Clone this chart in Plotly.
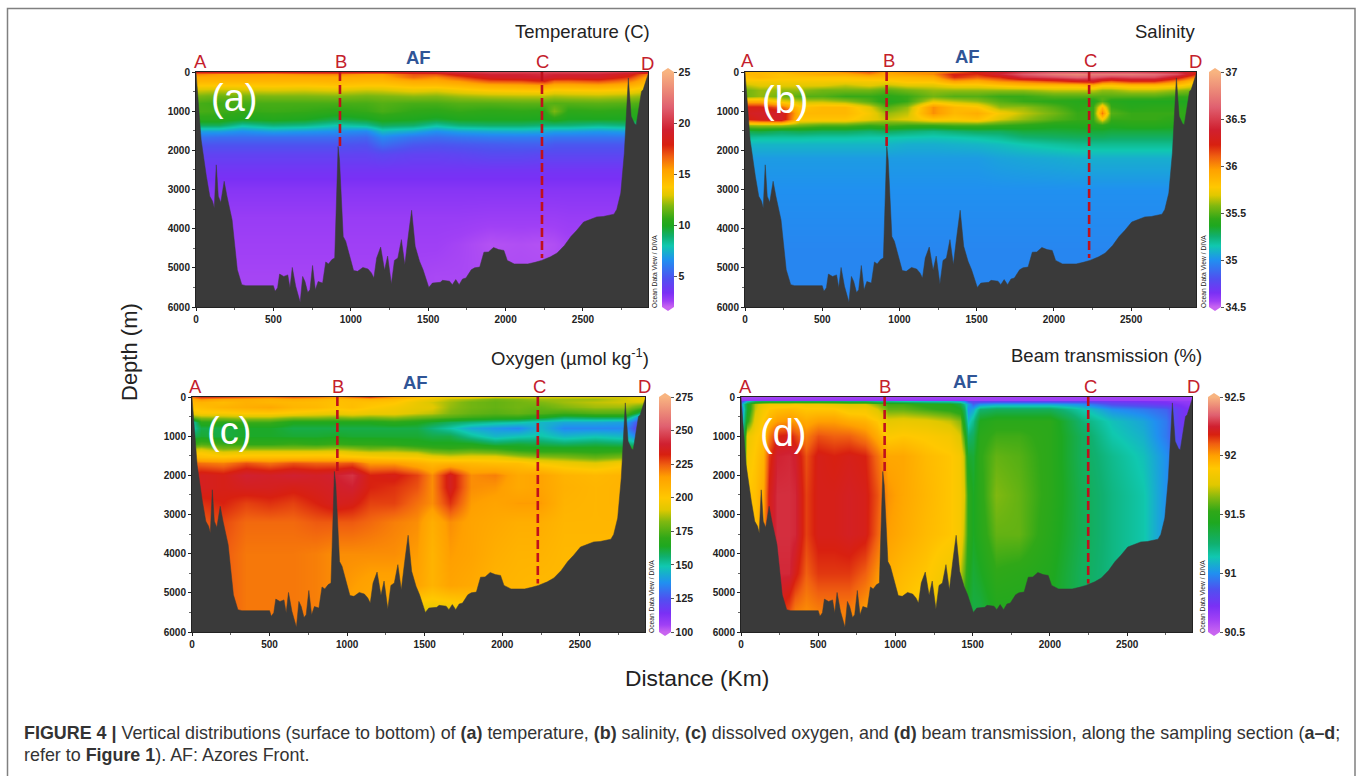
import plotly.graph_objects as go

W, H = 1360, 776

# ---------- bathymetry (shared by every section) ----------
bathy_km = [0,12,33,67,89,107,118,131,144,160,182,200,233,267,296,322,500,511,527,540,567,593,607,622,644,673,689,704,722,736,753,771,789,818,838,856,878,896,918,927,951,967,993,1018,1044,1078,1111,1133,1149,1167,1193,1218,1238,1262,1282,1304,1327,1349,1371,1393,1416,1444,1467,1504,1527,1578,1593,1616,1638,1656,1678,1700,1722,1744,1778,1800,1833,1860,1889,1922,1956,1989,2011,2056,2144,2190,2233,2290,2333,2380,2422,2460,2504,2550,2589,2630,2678,2700,2718,2744,2767,2793,2811,2833,2844,2860,2878,2889,2925]
bathy_m = [0,600,1730,2660,3170,3300,3470,2370,3170,3330,2790,3170,3770,5050,5430,5455,5455,5600,5510,5160,5220,5180,5510,4990,5470,5880,5220,5350,5630,5560,4940,5560,5350,5390,4850,4900,4790,4750,1900,2240,4200,4320,4700,5070,5090,4990,5030,5130,5260,4750,4470,5060,4700,5410,4810,4750,4280,4920,4200,3530,4450,4830,5050,5500,5390,5370,5320,5340,5340,5430,5300,5430,5285,5260,5050,5000,4980,4600,4595,4480,4535,4555,4810,4900,4900,4860,4810,4720,4620,4430,4200,4040,3830,3760,3700,3690,3660,3630,3510,3090,2070,150,1130,1320,1345,880,495,450,0]

# ---------- temperature ----------
temp_km = [0,150,300,500,700,900,1100,1200,1400,1550,1700,1900,2100,2250,2310,2400,2600,2800,2920]
temp_depth = [0,40,120,220,320,450,600,800,1000,1200,1350,1500,1650,1850,2100,2500,3000,3700,4400,5200,6000]
temp_values = [
 [18,18.5,18.5,18,18.5,18.5,18.5,18.5,19,19.5,20,20.5,20.5,20.5,20.5,20.5,20.5,20,19],
 [16,15.5,15.5,15.5,15.8,16,15.5,15.5,17,17,18.5,19.5,19.5,19.8,19.5,19.5,19.5,18.5,16],
 [15,15,15,15,15,15,15,15,16.5,15.8,17,18.7,19.2,19.4,19,18.8,19,17.5,15],
 [14.5,14.5,14.5,14.5,14.5,14.6,14.4,14.4,15,15,15.5,16.8,17,17.8,16.5,16.5,17,16,14.5],
 [13.8,13.8,13.8,13.9,13.8,14,13.8,13.8,14.2,14.2,14.5,15,15.2,15.5,15,15,15.2,14.8,14],
 [12.8,12.6,12.8,12.9,12.8,13,12.7,12.8,13.2,13,13.4,13.8,13.9,14,13.6,13.7,13.8,13.6,13],
 [11.8,11.5,11.7,11.8,11.8,11.9,11.7,11.8,12,11.9,12.2,12.4,12.5,12.5,12.3,12.4,12.5,12.3,12],
 [11,10.8,11,11,11,11,11,11.2,11,11,11.2,11.2,11.3,11.3,11.2,11.2,11.3,11.2,11],
 [11,10.9,10.7,10.8,10.7,10.5,10.7,11,10.6,10.5,10.7,10.5,10.6,10.5,11.8,10.5,10.6,10.5,10.5],
 [10.4,10.4,10,10.2,10,9.4,9.8,10.2,10,9.7,10,10,10,9.9,10.3,9.9,9.9,9.9,9.9],
 [9.2,9.2,8.2,8.8,8.6,8,8.4,9.2,9,8.2,8.8,9,9,8.8,8.8,8.8,8.5,8.8,7.5],
 [7,7,6.6,7,6.8,6.6,6.4,7.6,7.2,6.6,7,7.2,7.3,7.2,7,7,6.8,7,7],
 [5.8,5.6,5.6,5.6,5.6,5.6,5.4,6.4,5.8,5.6,5.8,6,6,6,5.8,5.8,5.8,5.8,5.8],
 [4.9,4.9,4.9,4.9,4.9,4.9,4.8,5.6,5,4.9,5,5.1,5.2,5.2,5,5,5,5,5],
 [4.2,4.2,4.2,4.2,4.2,4.2,4.2,4.4,4.2,4.2,4.3,4.5,4.5,4.4,4.4,4.4,4.4,4.4,4.4],
 [3.6,3.6,3.6,3.6,3.6,3.6,3.6,3.6,3.6,3.6,3.6,3.6,3.6,3.6,3.6,3.6,3.6,3.6,3.6],
 [3.1,3.1,3.1,3.1,3.1,3.1,3.1,3.1,3.1,3.1,3.1,3.1,3.1,3.1,3.1,3.1,3.1,3.1,3.1],
 [2.75,2.75,2.75,2.75,2.75,2.75,2.75,2.75,2.75,2.75,2.75,2.7,2.7,2.7,2.7,2.75,2.75,2.75,2.75],
 [2.6,2.6,2.6,2.6,2.6,2.6,2.6,2.6,2.6,2.6,2.5,2.3,2.35,2.3,2.35,2.5,2.5,2.5,2.5],
 [2.5,2.5,2.5,2.5,2.5,2.5,2.5,2.5,2.5,2.45,2.45,2.4,2.4,2.4,2.4,2.45,2.45,2.45,2.45],
 [2.5,2.5,2.5,2.5,2.5,2.5,2.5,2.5,2.5,2.45,2.45,2.4,2.4,2.4,2.4,2.45,2.45,2.45,2.45],
]

# ---------- salinity ----------
sal_km = [0,100,230,350,500,650,800,920,1050,1220,1350,1500,1650,1800,2000,2150,2250,2310,2370,2500,2650,2800,2920]
sal_depth = [0,50,130,230,330,450,600,750,900,1050,1200,1350,1500,1650,1850,2200,3000,4500,6000]
sal_values = [
 [35.85,35.85,35.85,35.9,35.9,36.0,36.1,35.95,36.0,36.0,36.1,36.25,36.35,36.5,36.6,36.6,36.55,36.55,36.55,36.55,36.5,36.45,36.25],
 [35.85,35.85,35.8,35.85,35.9,35.9,36.0,35.9,35.95,36.0,36.25,36.2,36.4,36.6,36.75,36.8,36.75,36.75,36.75,36.75,36.7,36.55,36.2],
 [35.8,35.85,35.8,35.8,35.8,35.8,35.85,35.85,35.85,35.9,36.2,36.1,36.2,36.45,36.55,36.65,36.6,36.55,36.5,36.55,36.55,36.3,36.0],
 [35.75,35.75,35.75,35.75,35.75,35.75,35.75,35.75,35.8,35.8,35.95,35.9,36.0,36.05,36.15,36.25,36.3,36.15,36.1,36.2,36.2,36.0,35.8],
 [35.65,35.7,35.7,35.7,35.7,35.65,35.7,35.65,35.7,35.7,35.75,35.75,35.8,35.85,35.85,35.85,35.9,35.8,35.8,35.85,35.85,35.8,35.7],
 [35.55,35.6,35.6,35.6,35.55,35.55,35.55,35.5,35.55,35.6,35.6,35.6,35.6,35.6,35.65,35.65,35.65,35.6,35.6,35.65,35.65,35.6,35.55],
 [35.55,35.6,35.55,35.5,35.5,35.45,35.45,35.42,35.45,35.55,35.5,35.5,35.45,35.45,35.5,35.5,35.5,35.5,35.5,35.5,35.5,35.45,35.45],
 [35.9,35.9,35.72,35.65,35.65,35.6,35.5,35.38,35.45,35.7,35.65,35.6,35.5,35.45,35.42,35.4,35.38,35.5,35.4,35.38,35.38,35.38,35.35],
 [36.25,36.25,36.1,35.8,35.85,35.85,35.7,35.5,35.6,36.0,35.85,35.8,35.6,35.6,35.5,35.42,35.45,35.85,35.45,35.4,35.42,35.42,35.38],
 [36.3,36.35,36.35,35.85,35.85,35.85,35.75,35.6,35.65,36.0,35.85,35.9,35.75,35.65,35.55,35.45,35.45,36.05,35.5,35.45,35.45,35.45,35.4],
 [36.2,36.3,36.35,35.8,35.8,35.8,35.72,35.65,35.7,35.8,35.78,35.82,35.68,35.6,35.5,35.45,35.45,35.75,35.45,35.45,35.45,35.42,35.4],
 [35.6,35.62,35.62,35.55,35.5,35.5,35.45,35.48,35.45,35.45,35.48,35.48,35.45,35.42,35.38,35.38,35.4,35.42,35.38,35.4,35.4,35.38,35.35],
 [35.3,35.32,35.28,35.3,35.28,35.28,35.25,35.28,35.25,35.22,35.25,35.28,35.28,35.32,35.32,35.33,35.33,35.33,35.32,35.32,35.32,35.32,35.3],
 [35.2,35.18,35.18,35.18,35.17,35.17,35.16,35.16,35.15,35.14,35.15,35.17,35.2,35.25,35.27,35.28,35.28,35.28,35.27,35.27,35.27,35.27,35.25],
 [35.1,35.1,35.1,35.1,35.1,35.1,35.1,35.1,35.08,35.08,35.09,35.1,35.12,35.15,35.18,35.2,35.2,35.2,35.2,35.2,35.2,35.2,35.18],
 [35.03,35.03,35.03,35.03,35.03,35.03,35.03,35.03,35.03,35.03,35.03,35.03,35.05,35.06,35.07,35.08,35.08,35.08,35.08,35.08,35.08,35.08,35.08],
 [35,35,35,35,35,35,35,35,35,35,35,35,35,35,35,35,35,35,35,35,35,35,35],
 [34.97,34.97,34.97,34.97,34.97,34.97,34.97,34.97,34.97,34.97,34.97,34.97,34.97,34.97,34.97,34.97,34.97,34.97,34.97,34.97,34.97,34.97,34.97],
 [34.97,34.97,34.97,34.97,34.97,34.97,34.97,34.97,34.97,34.97,34.97,34.97,34.97,34.97,34.97,34.97,34.97,34.97,34.97,34.97,34.97,34.97,34.97],
]

# ---------- oxygen ----------
oxy_km = [0,60,200,350,500,650,800,920,1030,1150,1300,1450,1550,1660,1800,1950,2100,2250,2400,2600,2800,2920]
oxy_depth = [0,40,120,250,400,520,650,800,1000,1200,1300,1400,1520,1680,2000,2300,2700,3200,4000,4800,5400,6000]
oxy_values = [
 [222,230,228,225,222,225,222,215,222,228,215,205,200,195,195,190,190,190,190,190,190,195],
 [210,218,212,210,208,210,208,204,206,208,205,198,194,188,185,180,182,185,185,185,190,195],
 [207,208,205,209,207,206,205,203,204,203,201,194,190,185,180,178,180,182,185,188,190,190],
 [202,204,208,210,212,207,206,202,204,200,197,193,192,184,180,178,180,178,182,185,185,175],
 [195,198,198,200,200,198,195,194,196,194,194,190,188,182,178,176,178,175,172,175,175,150],
 [180,185,186,188,188,184,184,182,184,182,184,180,178,175,172,170,170,165,158,160,160,125],
 [148,168,168,172,172,165,165,165,165,165,168,165,162,158,155,152,150,145,142,142,140,115],
 [148,160,160,163,163,160,160,160,160,160,160,160,155,150,142,138,135,145,135,135,135,110],
 [158,162,160,163,163,162,162,163,162,162,162,162,160,160,152,145,148,150,145,148,145,125],
 [170,175,172,170,170,172,170,172,170,170,168,166,165,165,165,160,162,160,158,160,158,150],
 [185,188,180,182,182,182,182,184,182,178,180,175,172,170,172,170,165,165,165,165,165,165],
 [197,198,192,194,194,194,194,195,192,190,190,188,182,180,182,180,175,172,172,170,172,172],
 [206,204,202,204,204,204,205,204,202,200,198,198,195,192,194,194,188,184,182,178,182,182],
 [224,222,220,226,222,226,224,224,226,216,216,210,206,208,206,204,204,198,195,192,198,198],
 [232,236,234,240,238,240,238,240,244,232,234,228,218,236,218,220,212,214,208,206,208,208],
 [232,236,234,236,236,234,236,238,240,232,230,226,218,236,218,217,212,214,209,207,208,208],
 [228,230,232,228,230,228,232,236,234,228,228,222,218,230,216,214,216,216,208,207,208,208],
 [223,225,227,223,223,223,225,225,225,223,220,218,210,218,214,212,210,210,207,207,207,207],
 [222,222,225,221,221,221,220,218,218,218,218,216,208,216,214,210,208,208,206,206,206,206],
 [222,222,225,221,221,221,220,218,216,214,214,214,208,214,212,208,207,206,206,206,206,206],
 [222,222,225,221,221,221,220,216,214,212,212,193,193,193,198,206,206,206,206,206,206,206],
 [222,222,225,221,221,221,220,216,214,212,212,193,193,193,198,206,206,206,206,206,206,206],
]

# ---------- beam transmission ----------
beam_km = [0,40,90,140,180,230,310,350,420,500,600,700,800,880,950,1050,1200,1350,1420,1445,1470,1500,1550,1650,1800,2000,2200,2400,2600,2750,2850,2920]
beam_depth = [0,70,100,170,300,600,1000,1500,2500,3500,4500,5500,6000]
beam_values = [
 [90.6,90.6,90.6,90.6,90.6,90.6,90.6,90.6,90.6,90.6,90.6,90.6,90.6,90.6,90.6,90.6,90.6,90.6,90.6,90.6,90.6,90.6,90.6,90.6,90.6,90.6,90.6,90.6,90.6,90.6,90.6,90.6],
 [90.65,90.65,90.65,90.65,90.65,90.65,90.65,90.65,90.65,90.65,90.65,90.65,90.65,90.65,90.65,90.65,90.65,90.65,90.65,90.65,90.62,90.62,90.62,90.62,90.62,90.62,90.62,90.62,90.62,90.62,90.62,90.62],
 [90.8,91.1,91.25,91.3,91.3,91.3,91.3,91.3,91.3,91.3,91.3,91.25,91.25,91.2,91.2,91.15,91.1,91.1,91.05,91,90.85,90.8,90.8,90.8,90.8,90.8,90.8,90.75,90.72,90.7,90.65,90.65],
 [91,91.4,91.7,91.8,91.85,91.85,91.85,91.88,91.85,91.85,91.8,91.75,91.75,91.65,91.55,91.55,91.5,91.45,91.35,91.2,91.05,90.9,91,91.05,91.05,91.05,91,90.85,90.8,90.75,90.7,90.65],
 [90.9,91.4,91.72,91.85,91.9,91.92,91.93,91.92,91.9,91.9,91.9,91.85,91.85,91.75,91.6,91.6,91.55,91.5,91.45,91.3,91,91.05,91.25,91.3,91.3,91.3,91.15,91,90.95,90.9,90.75,90.7],
 [90.95,91.5,91.8,91.9,91.95,92,92.02,92,91.97,92,92,91.97,91.95,91.9,91.78,91.8,91.78,91.72,91.65,91.4,91.1,91.2,91.45,91.5,91.5,91.5,91.25,91.12,91.05,90.95,90.75,90.72],
 [91,91.8,91.88,91.92,92.05,92.18,92.2,92.14,92.05,92.12,92.1,92.1,92.05,91.97,91.88,91.9,91.88,91.84,91.75,91.55,91.25,91.3,91.5,91.55,91.55,91.5,91.3,91.15,91.08,90.95,90.8,90.72],
 [91,91.85,91.9,91.95,92.15,92.25,92.26,92.24,92.12,92.2,92.18,92.2,92.18,92.08,91.98,91.98,91.93,91.9,91.85,91.7,91.4,91.38,91.52,91.6,91.58,91.5,91.3,91.2,91.12,91,90.85,90.75],
 [91,91.9,91.92,91.98,92.2,92.27,92.27,92.26,92.14,92.2,92.2,92.22,92.2,92.12,92.02,91.98,91.94,91.9,91.85,91.75,91.5,91.42,91.5,91.64,91.6,91.5,91.32,91.22,91.15,91,90.85,90.75],
 [91,91.9,91.92,92,92.2,92.27,92.27,92.26,92.14,92.2,92.2,92.22,92.2,92.1,92,91.97,91.93,91.9,91.85,91.7,91.5,91.42,91.48,91.6,91.6,91.48,91.32,91.22,91.15,91,90.85,90.75],
 [91,91.9,91.92,92,92.15,92.26,92.26,92.2,92.1,92.15,92.15,92.15,92.1,92.02,91.96,91.93,91.9,91.82,91.72,91.6,91.45,91.38,91.42,91.52,91.5,91.45,91.3,91.22,91.15,91,90.85,90.75],
 [91,91.9,91.92,92,92.1,92.2,92.12,92.05,92.03,92.05,92.05,92.05,92,91.97,91.92,91.9,91.85,91.75,91.68,91.5,91.4,91.35,91.35,91.45,91.45,91.42,91.3,91.22,91.15,91,90.85,90.75],
 [91,91.9,91.92,92,92.1,92.2,92.12,92.05,92.03,92.05,92.05,92.05,92,91.97,91.92,91.9,91.85,91.75,91.68,91.5,91.4,91.35,91.35,91.45,91.45,91.42,91.3,91.22,91.15,91,90.85,90.75],
]

# ---------- colour scales (same hues, stretched differently per panel) ----------
odv_colors = ["#c864f0","#a040f5","#7a30f5","#5050f0","#2090f0","#10c8b0","#10b070","#1ea820","#30a818","#80b810","#e0c800","#ffc800","#ffa000","#f06010","#d82010","#d02030","#e06070","#f8b480"]
stops_ts = [0,.025,.06,.12,.20,.26,.30,.345,.375,.43,.475,.51,.585,.64,.69,.755,.85,1]
stops_oxy = [0,.03,.08,.14,.21,.28,.32,.365,.40,.47,.52,.57,.66,.71,.755,.80,.875,1]
stops_beam = [0,.055,.11,.18,.25,.32,.375,.465,.514,.57,.626,.696,.75,.80,.84,.874,.923,1]

FONT = "Liberation Sans"
AX_BOX = [(196,648,72,307),(745,1196,72,307),(192,645,397,632),(741,1192,397,632)]
KM_RANGE = 2920
DEPTH_RANGE = 6000
CB_X = [662,1209,659,1208]
panels = [
 dict(km=temp_km,dep=temp_depth,z=temp_values,stops=stops_ts,zr=(2,25),ticks=[5,10,15,20,25],labels=["5","10","15","20","25"],
      title="Temperature (C)",tpos=(582,32),letter="(a)",lpos=(234,98),
      marks=[("A",200,62),("B",341,62),("C",542,62),("D",647,63)],af=(418,58),b=(930,1900),c=(2235,4750),odv=654),
 dict(km=sal_km,dep=sal_depth,z=sal_values,stops=stops_ts,zr=(34.5,37),ticks=[34.5,35,35.5,36,36.5,37],labels=["34.5","35","35.5","36","36.5","37"],
      title="Salinity",tpos=(1165,32),letter="(b)",lpos=(785,100),
      marks=[("A",747,61),("B",889,61),("C",1090,61),("D",1195,62)],af=(967,57),b=(917,1900),c=(2228,4750),odv=1203),
 dict(km=oxy_km,dep=oxy_depth,z=oxy_values,stops=stops_oxy,zr=(100,275),ticks=[100,125,150,175,200,225,250,275],labels=["100","125","150","175","200","225","250","275"],
      title="Oxygen (µmol kg<sup>-1</sup>)",tpos=(570,357),letter="(c)",lpos=(229,431),
      marks=[("A",196,386),("B",338,386),("C",539,386),("D",644,386)],af=(415,382),b=(937,1900),c=(2229,4760),odv=651),
 dict(km=beam_km,dep=beam_depth,z=beam_values,stops=stops_beam,zr=(90.5,92.5),ticks=[90.5,91,91.5,92,92.5],labels=["90.5","91","91.5","92","92.5"],
      title="Beam transmission (%)",tpos=(1106,356),letter="(d)",lpos=(783,433),
      marks=[("A",745,386),("B",885,386),("C",1090,386),("D",1193,386)],af=(965,381),b=(930,1900),c=(2248,4760),odv=1202),
]

def fx(x): return x / W
def fy(y): return 1 - y / H

fig = go.Figure()
annotations, shapes = [], []

def text(t, x, y, size, color="#222222", bold=False, angle=0, family=FONT, align="center"):
    annotations.append(dict(text=t, x=fx(x), y=fy(y), xref="paper", yref="paper", showarrow=False,
        xanchor=align, yanchor="middle", textangle=angle, align=align,
        font=dict(family=family, size=size, color=color, weight=700 if bold else 400)))

layout_axes = {}
for i, p in enumerate(panels):
    n = "" if i == 0 else str(i + 1)
    xa, ya = "x" + n, "y" + n
    l, r, t, b = AX_BOX[i]
    layout_axes["xaxis" + n] = dict(domain=[fx(l), fx(r)], range=[0, KM_RANGE], anchor=ya, tickvals=[0,500,1000,1500,2000,2500],
        ticks="outside", ticklen=3, tickcolor="#222", tickfont=dict(family=FONT, size=10, color="#222", weight=700),
        showgrid=False, zeroline=False, showline=True, linecolor="#222", linewidth=1, mirror=True,
        minor=dict(ticks="outside", dtick=250, ticklen=2, tickcolor="#666"))
    layout_axes["yaxis" + n] = dict(domain=[fy(b), fy(t)], range=[DEPTH_RANGE, 0], anchor=xa, tickvals=[0,1000,2000,3000,4000,5000,6000],
        ticks="outside", ticklen=3, tickcolor="#222", tickfont=dict(family=FONT, size=10, color="#222", weight=700),
        showgrid=False, zeroline=False, showline=True, linecolor="#222", linewidth=1, mirror=True,
        minor=dict(ticks="outside", dtick=500, ticklen=2, tickcolor="#666"))
    scale = [[s, c] for s, c in zip(p["stops"], odv_colors)]
    fig.add_trace(go.Heatmap(x=p["km"], y=p["dep"], z=p["z"], xaxis=xa, yaxis=ya, zsmooth="best",
        colorscale=scale, zmin=p["zr"][0], zmax=p["zr"][1], showscale=True,
        colorbar=dict(x=fx(CB_X[i]), xanchor="left", y=fy(t), yanchor="top", len=(b - t) / H, lenmode="fraction",
            thickness=12, xpad=0, ypad=0, outlinewidth=0, tickvals=p["ticks"], ticktext=p["labels"],
            ticks="outside", ticklen=3, tickcolor="#555", tickfont=dict(family=FONT, size=10.5, color="#222", weight=700))))
    fig.add_trace(go.Scatter(x=bathy_km + [bathy_km[-1], bathy_km[0]], y=bathy_m + [DEPTH_RANGE, DEPTH_RANGE],
        xaxis=xa, yaxis=ya, mode="lines", fill="toself", fillcolor="#3a3a3a", line=dict(color="#3a3a3a", width=0.5), hoverinfo="skip"))
    for pos in (p["b"], p["c"]):
        fig.add_trace(go.Scatter(x=[pos[0], pos[0]], y=[0, pos[1]], xaxis=xa, yaxis=ya, mode="lines",
            line=dict(color="#c0101c", width=2.6, dash="9px,4px"), hoverinfo="skip"))
    # colourbar end caps
    cx0, cx1 = CB_X[i], CB_X[i] + 12
    shapes.append(dict(type="path", xref="paper", yref="paper", line=dict(width=0), fillcolor=odv_colors[-1],
        path=f"M {fx(cx0)} {fy(t)} L {fx((cx0+cx1)/2)} {fy(t-4)} L {fx(cx1)} {fy(t)} Z"))
    shapes.append(dict(type="path", xref="paper", yref="paper", line=dict(width=0), fillcolor=odv_colors[0],
        path=f"M {fx(cx0)} {fy(b)} L {fx((cx0+cx1)/2)} {fy(b+4)} L {fx(cx1)} {fy(b)} Z"))
    text(p["title"], p["tpos"][0], p["tpos"][1], 18.5, color="#222222")
    text(p["letter"], p["lpos"][0], p["lpos"][1], 38, color="#ffffff")
    for ch, x, y in p["marks"]:
        text(ch, x, y, 18.5, color="#c4202c")
    text("AF", p["af"][0], p["af"][1], 18.5, color="#2f5597", bold=True)
    text("Ocean Data View / DIVA", p["odv"], b - 35, 6.7, color="#222", angle=-90)

text("Depth (m)", 130, 352, 22, angle=-90, color="#222222")
text("Distance (Km)", 697, 678, 22.8, color="#222222")
caption_1 = "<b>FIGURE 4 |</b> Vertical distributions (surface to bottom) of <b>(a)</b> temperature, <b>(b)</b> salinity, <b>(c)</b> dissolved oxygen, and <b>(d)</b> beam transmission, along the sampling section (<b>a–d</b>;"
caption_2 = "refer to <b>Figure 1</b>). AF: Azores Front."
text(caption_1, 22, 733, 17.9, color="#333333", align="left")
text(caption_2, 22, 755, 17.9, color="#333333", align="left")

shapes.append(dict(type="rect", xref="paper", yref="paper", x0=fx(7.5), x1=fx(1355), y0=fy(790), y1=fy(8.5),
    line=dict(color="#808080", width=1.5), fillcolor="rgba(0,0,0,0)", layer="below"))

fig.update_layout(width=W, height=H, autosize=False, margin=dict(l=0, r=0, t=0, b=0, autoexpand=False), showlegend=False,
    paper_bgcolor="white", plot_bgcolor="white", annotations=annotations, shapes=shapes,
    font=dict(family=FONT), **layout_axes)
fig.write_html("out.html", config={"displayModeBar": False},
    post_script="document.body.style.margin='0';document.body.style.overflow='hidden';document.documentElement.style.overflow='hidden';")
